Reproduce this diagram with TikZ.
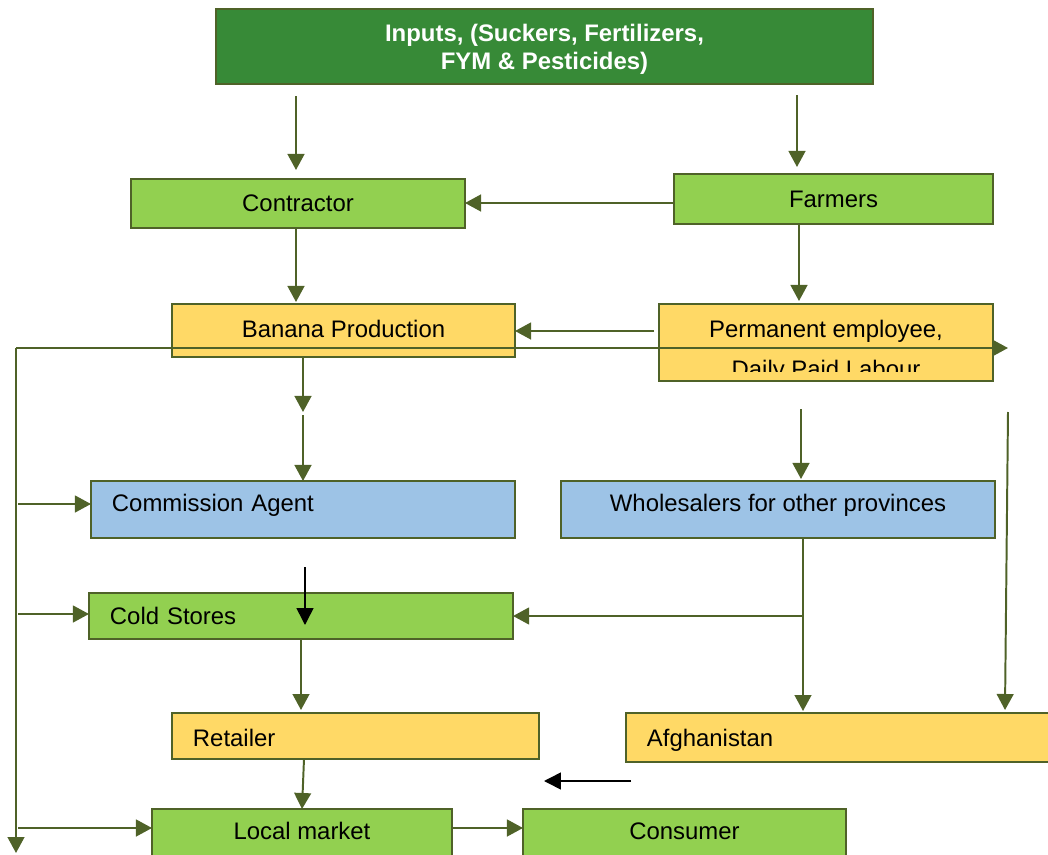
\documentclass[tikz,border=0pt]{standalone}
\usepackage{fontspec}
\setmainfont{Liberation Sans}
\usetikzlibrary{arrows.meta}
\definecolor{dgreen}{HTML}{378A37}
\definecolor{lgreen}{HTML}{92D050}
\definecolor{lyellow}{HTML}{FFD966}
\definecolor{lblue}{HTML}{9DC3E6}
\definecolor{lineol}{HTML}{4F6228}
\begin{document}
\begin{tikzpicture}[x=0.025cm,y=-0.025cm,
  box/.style 2 args={draw=lineol, line width=1.4pt, minimum width=#1*0.025cm, minimum height=#2*0.025cm, inner sep=0pt, outer sep=0pt, font=\fontsize{17}{20}\selectfont},
  one/.style={text height=0.425cm, text depth=0pt},
  liftA/.style={text depth=0.325cm},
  liftB/.style={text depth=0.425cm},
  padl/.style={align=left, text width=#1, inner xsep=0.525cm},
  gbox/.style={fill=lgreen}, ybox/.style={fill=lyellow}, bbox/.style={fill=lblue},
  arr/.style={draw=lineol, line width=1.4pt, -{Triangle[width=0.42cm,length=0.4cm]}},
  blk/.style={draw=black, line width=1.1pt, -{Triangle[width=0.42cm,length=0.42cm]}}
]
\useasboundingbox (0,0) rectangle (1048,855);
\clip (0,0) rectangle (1048,855);

% boxes
\node[box={657}{75}, fill=dgreen, text=white, font=\bfseries\fontsize{17}{19.9}\selectfont, align=center, text depth=0pt] (inputs) at (544.5,46.5) {Inputs, (Suckers, Fertilizers,\\FYM \& Pesticides)};
\node[box={334}{49}, gbox, one, text depth=0.05cm] (contractor) at (298,203.5) {Contractor};
\node[box={319}{50}, gbox, one] (farmers) at (833.5,199) {Farmers};
\node[box={343}{53}, ybox, one, text depth=0.1cm] (banana) at (343.5,330.5) {Banana Production};
\node[box={334}{77}, ybox, path picture={
    \clip (path picture bounding box.north west) rectangle ([yshift=0.25cm]path picture bounding box.south east);
    \node[draw=none, fill=none, anchor=north, align=center, inner sep=0pt, font=\fontsize{17}{28.45}\selectfont]
      (permtext) at ([yshift=-0.225cm]path picture bounding box.north) {Permanent employee,\\Daily Paid Labour};
  }] (perm) at (826,342.5) {};
\node[box={424}{57}, bbox, one, liftA, padl=9.55cm] (agent) at (303,509.5) {Commission Agent};
\node[box={434}{57}, bbox, one, liftA] (whole) at (778,509.5) {Wholesalers for other provinces};
\node[box={424}{46}, gbox, one, padl=9.55cm] (cold) at (301,616) {Cold Stores};
\node[box={367}{46}, ybox, one, text height=0.525cm, padl=8.125cm] (retailer) at (355.5,736) {Retailer};
\node[box={434}{49}, ybox, one, padl=9.8cm] (afgh) at (843,737.5) {Afghanistan};
\node[box={300}{61}, gbox, one, liftB] (local) at (302,839.5) {Local market};
\node[box={323}{61}, gbox, one, liftB] (consumer) at (684.5,839.5) {Consumer};

% connectors
\draw[arr] (inputs.south -| 296,0) ++(0,12) -- (296,170);
\draw[arr] (inputs.south -| 797,0) ++(0,11) -- (797,167);
\draw[arr] (farmers.west |- 0,203) -- (contractor.east |- 0,203);
\draw[arr] (contractor.south -| 296,0) -- (296,302);
\draw[arr] (farmers.south -| 799,0) -- (799,301);
\draw[arr] (perm.west |- 0,331) ++(-5,0) -- (banana.east |- 0,331);
\coordinate (lt) at (16,348);
\draw[arr] (lt) -- (1008,348);
\draw[arr] (lt) -- (16,853);
\draw[arr] (18,504) -- (agent.west |- 0,504);
\draw[arr] (18,614) -- (cold.west |- 0,614);
\draw[arr] (18,828) -- (local.west |- 0,828);
\draw[arr] (banana.south -| 303,0) -- (303,412);
\draw[arr] (303,415) -- (agent.north -| 303,0);
\draw[arr] (801,409) -- (801,479);
\draw[arr] (1008,412) -- (1005,710);
\draw[arr] (whole.south -| 803,0) -- (803,711);
\draw[arr] (803,616) -- (cold.east);
\draw[blk] (305,567) -- (305,625);
\draw[arr] (cold.south) -- (cold.south |- 0,710);
\draw[arr] (retailer.south -| 304,0) -- (local.north -| 302,0);
\draw[blk] (631,781) -- (544,781);
\draw[arr] (local.east |- 0,828) -- (consumer.west |- 0,828);
\end{tikzpicture}
\end{document}
